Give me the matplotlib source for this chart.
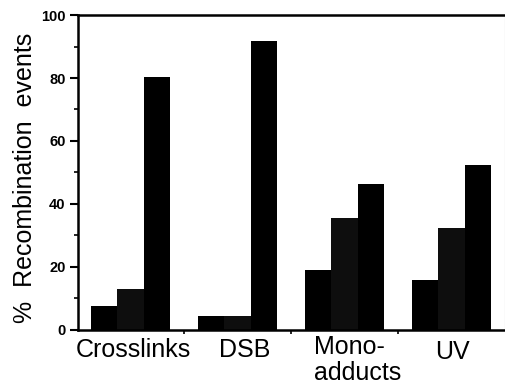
import numpy as np
import matplotlib
matplotlib.use("Agg")
import matplotlib.pyplot as plt
import matplotlib.transforms as mtransforms
from matplotlib.ticker import MultipleLocator, FixedLocator, NullFormatter

# -----------------------------
# Data
# -----------------------------
categories = ["Crosslinks", "DSB", "Mono-\nadducts", "UV"]
bar_first = [7.5, 4.4, 19.0, 15.9]
bar_second = [13.0, 4.4, 35.4, 32.3]
bar_third = [80.2, 91.8, 46.3, 52.4]

plt.rcParams['font.family'] = ['Liberation Sans', 'DejaVu Sans']

fig = plt.figure(figsize=(5.06, 3.85), dpi=100)
ax = fig.add_axes([0.154, 0.143, 0.844, 0.818])

x = np.arange(len(categories))
w = 0.246

ax.bar(x - w, bar_first, w, color='black', linewidth=0)
ax.bar(x, bar_second, w, color='#0e0e0e', linewidth=0)
ax.bar(x + w, bar_third, w, color='black', linewidth=0)

ax.set_xlim(-0.49, 3.5)
ax.set_ylim(0, 100)

# y axis ticks
ax.yaxis.set_major_locator(MultipleLocator(20))
ax.yaxis.set_minor_locator(MultipleLocator(10))
ax.tick_params(axis='y', which='major', direction='out', length=6, width=1.5,
               labelsize=10.5, pad=3)
ax.tick_params(axis='y', which='minor', direction='out', length=3, width=1.2)
for lab in ax.get_yticklabels():
    lab.set_fontweight('bold')

# x axis: labels at group centres, tick marks between groups
ax.xaxis.set_major_locator(FixedLocator(x))
ax.set_xticklabels(categories, fontsize=18)
ax.xaxis.set_minor_locator(FixedLocator([0.5, 1.5, 2.5]))
ax.xaxis.set_minor_formatter(NullFormatter())
ax.tick_params(axis='x', which='major', length=0, pad=6)
ax.tick_params(axis='x', which='minor', direction='out', length=3, width=1.2)

# the pasted-on labels sit a little off centre in the original
shifts = [(3, 0), (7, 0), (13, 3), (1, -2)]
for lab, (dx, dy) in zip(ax.get_xticklabels(), shifts):
    lab.set_multialignment('left')
    lab.set_linespacing(1.08)
    lab.set_transform(lab.get_transform() +
                      mtransforms.ScaledTranslation(dx / 100, dy / 100,
                                                    fig.dpi_scale_trans))
ax.get_xticklabels()[1].set_family(['Liberation Sans Narrow', 'Liberation Sans'])

ax.set_ylabel("%  Recombination  events", fontsize=18)
ax.yaxis.set_label_coords(-0.096, 0.484)

# frame
for side in ['left', 'bottom', 'top']:
    ax.spines[side].set_linewidth(1.8)
    ax.spines[side].set_color('black')
ax.spines['right'].set_linewidth(0.8)
ax.spines['right'].set_color('#aaaaaa')

fig.savefig("out.png", dpi=100)
